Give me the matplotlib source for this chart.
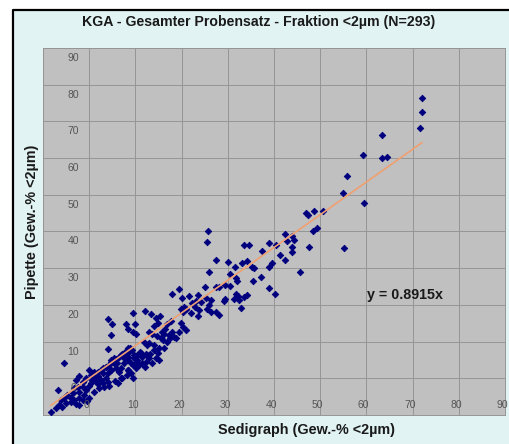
import matplotlib
matplotlib.use('Agg')
import matplotlib.pyplot as plt
import matplotlib.transforms as mtransforms
from matplotlib.patches import Rectangle
from matplotlib.lines import Line2D
import numpy as np

title = 'KGA - Gesamter Probensatz - Fraktion <2µm (N=293)'
xlabel = 'Sedigraph (Gew.-% <2µm)'
ylabel = 'Pipette (Gew.-% <2µm)'
slope = 0.8915
tick_values = [0, 10, 20, 30, 40, 50, 60, 70, 80, 90]

# values (Sedigraph, Pipette)
sedigraph = [
    72.0, 72.0, 71.5, 63.4, 59.2, 63.4, 64.5, 55.7, 54.9, 59.4, 47.0, 47.4, 48.7, 50.6,
    49.3, 48.4, 55.1, 47.6, 42.3, 43.8, 42.8, 44.3, 44.0, 43.8, 38.9, 40.5, 37.5, 41.3,
    42.3, 33.5, 34.6, 30.1, 33.1, 34.1, 39.6, 38.9, 31.5, 35.3, 45.6,
    25.8, 25.4, 27.4, 35.6, 26.0, 30.5, 31.7, 32.0, 35.4, 37.2, 38.9, 40.3, 25.1, 27.4,
    28.1, 29.5, 30.5, 19.4, 17.9, 20.0, 21.6, 23.5, 23.2, 24.1, 22.3, 22.9, 25.3, 26.3,
    25.9, 25.6, 29.5, 29.2, 31.7, 32.2, 31.3, 32.4, 33.5, 34.2, 32.8, 19.9, 20.5, 21.0,
    23.8, 26.3, 27.4, 28.1, 9.5, 12.1, 13.3, 15.3, 23.5,
    4.0, 4.9, 4.7, 7.9, 9.9, 8.5, 9.4, 10.1, 14.4, 15.0, 14.0, 16.9, 16.4, 15.7, 13.0,
    13.7, 11.9, 12.6, 14.6, 15.5, 16.0, 16.9, 17.4, 18.7, 18.0, 20.9, 20.2, 14.0, 16.2,
    14.8, 14.4, 11.0, 11.5, 12.2, 13.1, 8.3, 8.6, 7.8, 9.2, 7.1, 6.5, 5.9, 7.6, 8.3,
    9.7, 10.4, 4.0, -5.4, 4.7, 5.4, 4.3, 3.6, 2.9, 4.7, 5.8, 6.5, 6.8, 2.0, 2.9, 1.8,
    1.1, 0.6, 1.4, 2.5, 3.6, 4.0, 0.0, 0.4, -0.7, -1.4, -2.3, -2.9, -2.4, -1.4, -3.2,
    -3.6, -2.2, -0.7, 0.0, 0.4, -4.7, -4.0, -5.4, -6.1, -5.0, -4.0, -3.2, -2.9, -2.2,
    -1.4, -0.4, 0.0, -6.5, -5.8, -7.2, -8.3, -6.8, -2.2, -1.1, 1.1, 2.2, 3.2, 4.3, 1.8,
    2.9, 4.0, 5.6, 6.3, 7.2, 8.1, 9.0, 9.4, 8.3, 10.1, 10.8, 11.5, 9.4, 12.2, 13.0,
    12.1, 13.7, 15.1,
    17.6, 19.8, 20.2, 20.9, 22.0, 16.2, 17.3, 18.4, 19.4, 13.0, 14.0, 15.1, 12.6, 11.2,
    8.9, 7.9, 6.8, 8.3, 9.7, 10.4, 5.4, 4.7, 6.1, 7.6, 9.0, 10.4, 3.6, 2.5, 1.1, 4.7,
    6.8, 8.3,
]
pipette = [
    76.5, 72.5, 68.3, 66.4, 60.9, 60.0, 60.3, 55.0, 50.5, 47.8, 45.0, 44.6, 45.6, 45.7,
    41.0, 40.0, 35.5, 35.8, 39.3, 38.7, 37.3, 37.8, 35.8, 34.4, 37.0, 36.2, 34.6, 33.5,
    32.3, 36.2, 36.2, 31.8, 31.5, 31.9, 31.4, 30.4, 30.2, 30.2, 29.0,
    40.0, 37.1, 32.3, 30.1, 29.0, 28.3, 27.2, 26.5, 26.6, 27.5, 24.6, 23.1, 24.9, 24.9,
    24.9, 25.5, 25.2, 24.3, 23.1, 22.0, 22.5, 22.6, 21.1, 20.7, 20.4, 19.5, 21.9, 21.3,
    20.1, 19.0, 21.7, 21.0, 23.1, 22.5, 21.7, 21.3, 22.2, 22.6, 19.2, 19.0, 19.5, 18.8,
    18.6, 18.1, 18.1, 17.2, 17.7, 18.3, 17.4, 17.0, 17.0,
    16.1, 14.9, 11.8, 14.9, 14.7, 13.4, 12.7, 12.2, 16.3, 15.2, 14.3, 14.9, 13.4, 12.7, 12.7,
    12.0, 10.0, 9.1, 11.6, 11.1, 10.4, 10.0, 11.1, 10.9, 12.7, 13.1, 14.0, 7.7, 8.2,
    6.8, 5.4, 7.1, 5.9, 6.5, 6.5, 8.3, 7.2, 7.1, 7.7, 6.5, 5.9, 5.2, 5.4, 5.0,
    6.3, 5.0, 8.0, 4.3, 5.0, 4.1, 3.6, 3.2, 2.7, 2.3, 2.7, 1.6, 0.2, 1.8, 1.4, 0.7,
    0.5, -0.5, -0.7, -0.5, 0.0, 1.4, 2.3, 0.9, 0.0, -0.9, 0.7, -0.5, -2.3, -2.5, -2.7,
    -4.1, -3.8, -3.2, -2.0, -1.4, -4.5, -5.3, -5.4, -5.9, -6.8, -6.5, -5.9, -7.1, -7.4,
    -5.9, -6.3, -5.4, -7.3, -7.7, -8.2, -9.2, -3.2, -5.4, -4.5, -3.6, -2.7, -2.3, -2.0, -1.6,
    -1.4, -0.9, -0.7, -1.4, 0.0, 0.9, 1.4, 0.0, 2.3, 2.7, 3.6, 4.1, 3.6, 4.5, 5.4,
    3.2, 4.1, 5.0,
    15.6, 15.2, 18.1, 19.0, 17.7, 12.2, 11.8, 11.3, 12.7, 9.5, 9.0, 8.2, 6.3, 6.8,
    8.2, 7.3, 6.3, 5.9, 5.4, 6.3, 5.4, 4.5, 4.1, 4.1, 4.1, 4.5, 3.2, 2.3, 1.8, 2.3,
    2.7, 2.3,
]

plt.rcParams['font.family'] = ['Liberation Sans', 'DejaVu Sans']

fig = plt.figure(figsize=(5.10, 4.44), dpi=100)
fig.patch.set_facecolor('white')
# light cyan chart area, black frame only on top and left
top = 1 - 10 / 444
left = 13 / 510
fig.patches.append(Rectangle((left, 0), 1 - left, top, transform=fig.transFigure,
                             facecolor='#e2f3f3', edgecolor='none', zorder=-2))
fig.lines.append(Line2D([left, left, 1], [0, top, top], transform=fig.transFigure,
                        color='black', linewidth=1.6))

ax = fig.add_axes([43 / 510, 29 / 444, 462 / 510, 367 / 444])
ax.set_facecolor('#c0c0c0')
ax.set_xlim(-10, 90)
ax.set_ylim(-10, 90)
ax.set_xticks(range(-10, 91, 10))
ax.set_yticks(range(-10, 91, 10))
ax.tick_params(length=0, labelbottom=False, labelleft=False)
ax.grid(True, color='#959595', linewidth=0.7)
ax.set_axisbelow(True)
for s in ax.spines.values():
    s.set_color('#959595')
    s.set_linewidth(0.7)

xs = np.array(sedigraph)
ys = np.array(pipette)
ax.scatter(xs, ys, marker='D', s=11, color='#00007f', edgecolors='#00007f',
           linewidths=0.6, zorder=3)
xl = np.array([xs.min(), xs.max()])
ax.plot(xl, slope * xl, color='#f0a070', linewidth=1.2, zorder=4)

# tick labels drawn inside the plot area, as in the original
bx = mtransforms.blended_transform_factory(ax.transData, ax.transAxes)
by = mtransforms.blended_transform_factory(ax.transAxes, ax.transData)
for v in tick_values:
    ax.text(v - 0.6, 0.027, str(v), transform=bx, ha='center', va='center',
            fontsize=7.5, color='#555555')
    ax.text(0.065, v - 2.7, str(v), transform=by, ha='center', va='center',
            fontsize=7.5, color='#555555')

ax.text(68.4, 22.6, 'y = 0.8915x', ha='center', va='center', fontsize=10.3,
        fontweight='bold', color='#1a1a1a')

fig.text(259 / 510, 1 - 22 / 444, title, ha='center', va='center', fontsize=10.2,
         fontweight='bold', color='#1a1a1a')
fig.text(307 / 510, 1 - 430 / 444, xlabel, ha='center', va='center', fontsize=10.4,
         fontweight='bold', color='#1a1a1a')
fig.text(32 / 510, 1 - 222 / 444, ylabel, ha='center', va='center', fontsize=10.4,
         fontweight='bold', color='#1a1a1a', rotation=90)

fig.savefig('out.png', dpi=100)
